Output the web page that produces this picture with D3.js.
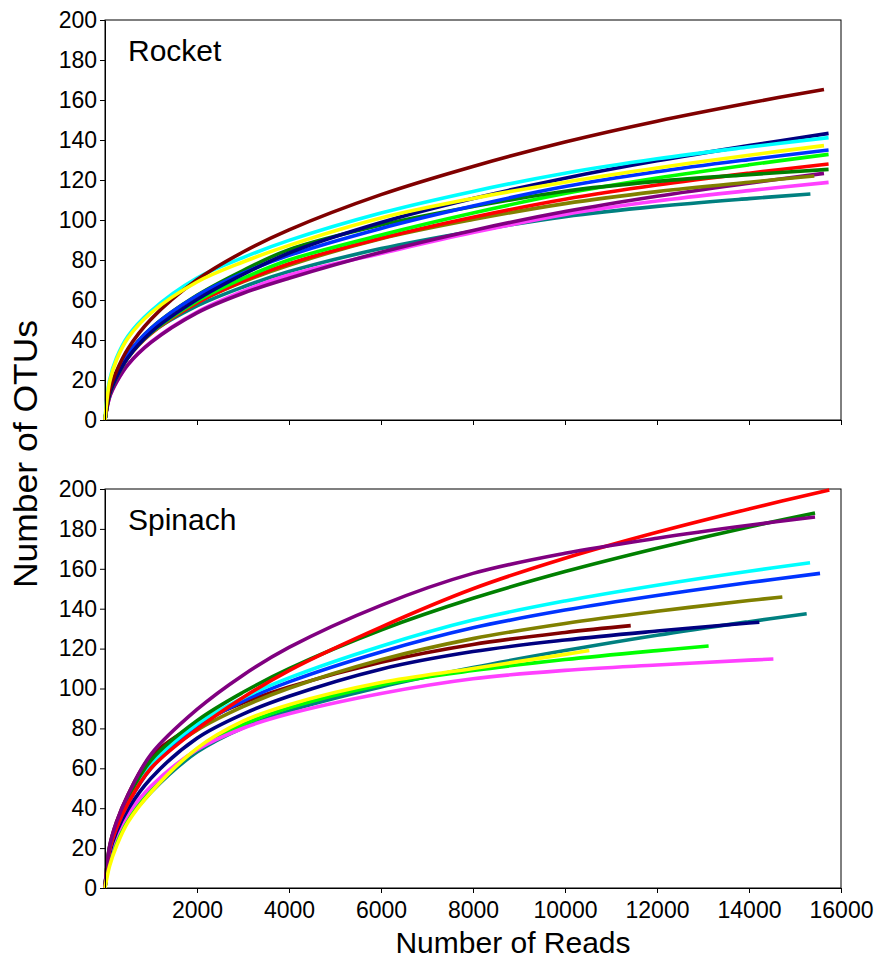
<!DOCTYPE html>
<html>
<head>
<meta charset="utf-8">
<script src="https://cdn.jsdelivr.net/npm/d3@7"></script>
<style>
  body { margin: 0; background: #fff; }
  text { font-family: "Liberation Sans", Arial, sans-serif; }
</style>
</head>
<body>
<svg width="880" height="958"></svg>
<script>
// sampled read depths (x); each curve runs along these until its own last read
var readsGrid = [0, 100, 250, 500, 1000, 2000, 3000, 4000, 6000, 8000, 10000, 12000, 14000];
var xTicks = [2000, 4000, 6000, 8000, 10000, 12000, 14000, 16000];
var yTicks = [0, 20, 40, 60, 80, 100, 120, 140, 160, 180, 200];

// Rocket
var rocketColors = ['#008080', '#ff40ff', '#800080', '#808000', '#ff0000', '#00ff00',
                    '#008000', '#0033ff', '#000080', '#00ffff', '#800000', '#ffff00'];
var rocketEnds = [15335, 15730, 15630, 15420, 15730, 15730, 15730, 15730, 15730, 15730, 15630, 15630];
var rocketOtus = [
  [0, 13.2, 21.9, 32.1, 43.5, 57.0, 66.5, 74.2, 85.7, 94.4, 101.7, 106.8, 110.7, 113],
  [0, 11.4, 18.9, 27.7, 39.0, 54.0, 64.4, 72.5, 83.3, 93.7, 102.8, 109.5, 114.7, 118.8],
  [0, 11.4, 18.9, 27.7, 38.8, 53.6, 63.4, 70.9, 83.9, 94.8, 104.2, 111.9, 118.4, 123.3],
  [0, 13.2, 21.9, 32.1, 44.0, 58.7, 69.1, 77.4, 90.6, 100.2, 108.2, 114.2, 118.9, 122],
  [0, 12.9, 21.3, 31.2, 43.2, 58.5, 69.4, 78.1, 90.9, 101.4, 110.4, 117.5, 123.4, 128],
  [0, 12.9, 21.3, 31.2, 43.5, 59.4, 70.8, 80.0, 92.5, 103.5, 113.2, 121.0, 127.6, 132.8],
  [0, 13.6, 22.5, 33, 45.8, 62.3, 74.7, 85.2, 97.5, 106.7, 114.4, 119.3, 122.7, 125.3],
  [0, 13.6, 22.5, 33, 45.8, 62.1, 73.4, 82.3, 95.8, 107.0, 116.7, 124.1, 130.2, 135],
  [0, 12.9, 21.3, 31.2, 43.8, 60.2, 72.8, 83.5, 98.7, 110.7, 120.9, 129.6, 137.2, 143.3],
  [0, 20, 31, 42, 54.5, 71.0, 81.2, 89.8, 103.5, 114.3, 123.4, 130.6, 136.5, 141.2],
  [0, 14.7, 24.4, 35.7, 50.4, 70.1, 84.0, 95.1, 112.7, 126.8, 139.0, 149.4, 158.5, 165.3],
  [0, 19, 30, 41, 53.5, 69.0, 79.0, 87.3, 101.0, 110.8, 118.9, 126.0, 132.4, 137.2]
];

// Spinach
var spinachColors = ['#008080', '#00ff00', '#ff40ff', '#000080', '#800000', '#808000',
                     '#0033ff', '#00ffff', '#008000', '#ff0000', '#800080', '#ffff00'];
var spinachEnds = [15254, 13122, 14530, 14225, 11429, 14725, 15544, 15327, 15435, 15746, 15435, 10529];
var spinachOtus = [
  [0, 15, 24, 34, 48, 68.1, 80.3, 88.8, 100.8, 110.5, 119.0, 126.7, 133.5, 137.5],
  [0, 15.5, 25, 35, 49, 69.5, 81.9, 90.3, 101.8, 109.0, 114.5, 119.0, 121.3],
  [0, 16.7, 26.5, 37, 51, 69.3, 80.1, 87.3, 97.5, 104.9, 109.1, 111.8, 114.2, 114.8],
  [0, 17.5, 28, 39.5, 55, 75.1, 87.2, 96.1, 109.7, 118.5, 124.3, 128.8, 132.8, 133.2],
  [0, 20.9, 33, 46.7, 66, 82.3, 92.8, 100.8, 113.2, 122.1, 128.1, 131.5],
  [0, 19.6, 31, 43.8, 62, 79.1, 90.9, 100.1, 114.4, 125.0, 132.6, 138.7, 144.1, 145.9],
  [0, 19, 30, 42.4, 60, 80.7, 93.7, 103.3, 118.3, 130.4, 139.3, 146.6, 153.1, 157.7],
  [0, 19.6, 31, 43.8, 62, 82.1, 95.3, 105.3, 121.2, 134.3, 143.9, 151.8, 158.8, 163],
  [0, 20.2, 32, 45.2, 64, 83.9, 98.1, 109.9, 129.3, 145.2, 158.6, 170.3, 181.0, 188],
  [0, 19, 30, 42.4, 60, 79.6, 95.5, 109.0, 130.8, 150.0, 165.3, 178.3, 190.0, 199.5],
  [0, 20.9, 33, 46.7, 67, 89.5, 106.7, 120.6, 141.7, 157.7, 167.8, 175.3, 181.8, 186],
  [0, 11, 21, 33, 48, 70.0, 83.6, 91.9, 103.0, 110.0, 117.1, 119]
];

var svg = d3.select('svg');
var left = 105, right = 841;

var xScale = d3.scaleLinear()
    .domain([0, 16000])
    .range([left, right]);

function curvePoints(otus, end) {
    var xs = readsGrid.filter(r => r < end).concat([end]);
    return xs.map((r, i) => [r, otus[i]]);
}

function drawPanel(top, bottom, name, colors, ends, otus, showXLabels) {
    var yScale = d3.scaleLinear()
        .domain([0, 200])
        .range([bottom, top]);

    // frame
    svg.append('rect')
        .attr('x', left).attr('y', top)
        .attr('width', right - left).attr('height', bottom - top)
        .attr('fill', 'none').attr('stroke', '#000').attr('stroke-width', 1);

    var line = d3.line()
        .x(d => xScale(d[0]))
        .y(d => yScale(d[1]))
        .curve(d3.curveCatmullRom.alpha(0.5));

    svg.append('g').selectAll('path')
        .data(otus)
        .enter()
        .append('path')
            .attr('d', (d, i) => line(curvePoints(d, ends[i])))
            .attr('fill', 'none')
            .attr('stroke', (d, i) => colors[i])
            .attr('stroke-width', 3.6);

    var yAxis = d3.axisLeft(yScale)
        .tickValues(yTicks)
        .tickSize(5)
        .tickSizeOuter(0)
        .tickPadding(3);

    var xAxis = d3.axisBottom(xScale)
        .tickValues(xTicks)
        .tickSize(5)
        .tickSizeOuter(0)
        .tickPadding(9)
        .tickFormat(showXLabels ? d3.format('d') : '');

    var gy = svg.append('g')
        .attr('transform', 'translate(' + left + ',0)')
        .call(yAxis);
    var gx = svg.append('g')
        .attr('transform', 'translate(0,' + bottom + ')')
        .call(xAxis);

    [gx, gy].forEach(g => {
        g.selectAll('text').style('font-size', '23px').attr('fill', '#000');
        g.select('.domain').attr('stroke', '#000');
    });

    svg.append('text')
        .attr('x', 128)
        .attr('y', top + 41)
        .style('font-size', '30px')
        .text(name);
}

drawPanel(20, 420, 'Rocket', rocketColors, rocketEnds, rocketOtus, false);
drawPanel(489, 888, 'Spinach', spinachColors, spinachEnds, spinachOtus, true);

svg.append('text')
    .attr('x', 513)
    .attr('y', 953)
    .style('font-size', '30px')
    .style('text-anchor', 'middle')
    .text('Number of Reads');

svg.append('text')
    .attr('transform', 'rotate(-90)')
    .attr('x', -454)
    .attr('y', 37)
    .attr('textLength', 268)
    .attr('lengthAdjust', 'spacingAndGlyphs')
    .style('font-size', '33px')
    .style('text-anchor', 'middle')
    .text('Number of OTUs');
</script>
</body>
</html>
